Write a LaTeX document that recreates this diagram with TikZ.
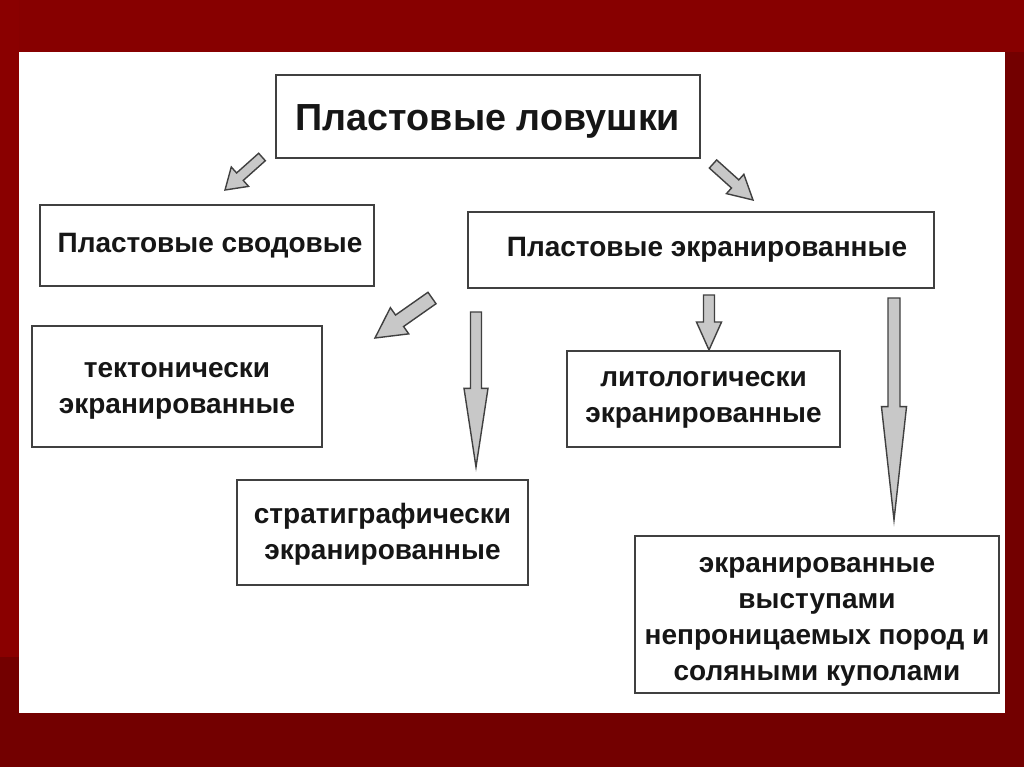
\documentclass[tikz,border=0pt]{standalone}
\usepackage{fontspec}
\setmainfont{Liberation Sans}
\usetikzlibrary{calc}
\definecolor{bgred}{HTML}{730000}
\definecolor{topred}{HTML}{870000}
\definecolor{leftred}{HTML}{8A0000}
\definecolor{txt}{HTML}{161616}
\definecolor{boxline}{HTML}{404040}
\definecolor{arrfill}{HTML}{C8C8C8}
\newcommand{\blockarr}[5]{%
  \draw[arrowshape]
    ($(#1)!#3!90:(#2)$) --
    ($($(#2)!#5!(#1)$)!#3!90:(#2)$) --
    ($($(#2)!#5!(#1)$)!#4!90:(#2)$) --
    (#2) --
    ($($(#2)!#5!(#1)$)!#4!-90:(#2)$) --
    ($($(#2)!#5!(#1)$)!#3!-90:(#2)$) --
    ($(#1)!#3!-90:(#2)$) -- cycle;}
\begin{document}
\begin{tikzpicture}[x=0.75pt,y=-0.75pt,
  box/.style={draw=boxline, line width=1.1pt, fill=white, inner sep=0pt},
  lbl/.style={align=center, text=txt, inner sep=0pt,
    font=\bfseries\fontsize{21}{27}\selectfont},
  arrowshape/.style={draw=boxline, line width=1.05pt, fill=arrfill, line join=miter}]
\useasboundingbox (0,0) rectangle (1024,767);
\fill[bgred] (0,0) rectangle (1024,767);
\fill[topred] (0,0) rectangle (1024,52);
\fill[leftred] (0,0) rectangle (19,657);
\fill[white] (19,52) rectangle (1005,713);

\node[box, minimum width=318pt, minimum height=62.25pt,
  label={[lbl, yshift=-3.5pt, font=\bfseries\fontsize{28.3}{34}\selectfont]center:{Пластовые ловушки}}]
  (top) at (488,116.5) {};
\node[box, minimum width=250.5pt, minimum height=60.75pt,
  label={[lbl, xshift=2.25pt]center:{Пластовые сводовые}}] (svod) at (207,245.5) {};
\node[box, minimum width=349.5pt, minimum height=57pt,
  label={[lbl, xshift=4.5pt]center:{Пластовые экранированные}}] (ekran) at (701,250) {};
\node[box, minimum width=217.5pt, minimum height=90.75pt,
  label={[lbl, yshift=-3pt]center:{тектонически\\экранированные}}] (tekt) at (177,386.5) {};
\node[box, minimum width=204.75pt, minimum height=72pt,
  label={[lbl, yshift=-0.5pt]center:{литологически\\экранированные}}] (lito) at (703.5,399) {};
\node[box, minimum width=218.25pt, minimum height=78.75pt,
  label={[lbl, yshift=-1pt]center:{стратиграфически\\экранированные}}] (strat) at (382.5,532.5) {};
\node[box, minimum width=273pt, minimum height=117.75pt,
  label={[lbl, yshift=-5.25pt]center:{экранированные\\выступами\\непроницаемых пород и\\соляными куполами}}]
  (vyst) at (817,614.5) {};

\coordinate (a1s) at (262,157); \coordinate (a1e) at (225,190);
\coordinate (a2s) at (713,164); \coordinate (a2e) at (753,200);
\coordinate (a3s) at (432,298); \coordinate (a3e) at (375,338);
\coordinate (a4s) at (476,312); \coordinate (a4e) at (476,467);
\coordinate (a5s) at (709,295); \coordinate (a5e) at (709,350);
\coordinate (a6s) at (894,298); \coordinate (a6e) at (894,520);

\blockarr{a1s}{a1e}{3.75pt}{9.75pt}{15pt}
\blockarr{a2s}{a2e}{4.1pt}{9.75pt}{18pt}
\blockarr{a3s}{a3e}{5.25pt}{12pt}{22.5pt}
\blockarr{a4s}{a4e}{4.1pt}{9pt}{59pt}
\blockarr{a5s}{a5e}{4.1pt}{9.4pt}{21pt}
\blockarr{a6s}{a6e}{4.5pt}{9.4pt}{85pt}
\end{tikzpicture}
\end{document}
